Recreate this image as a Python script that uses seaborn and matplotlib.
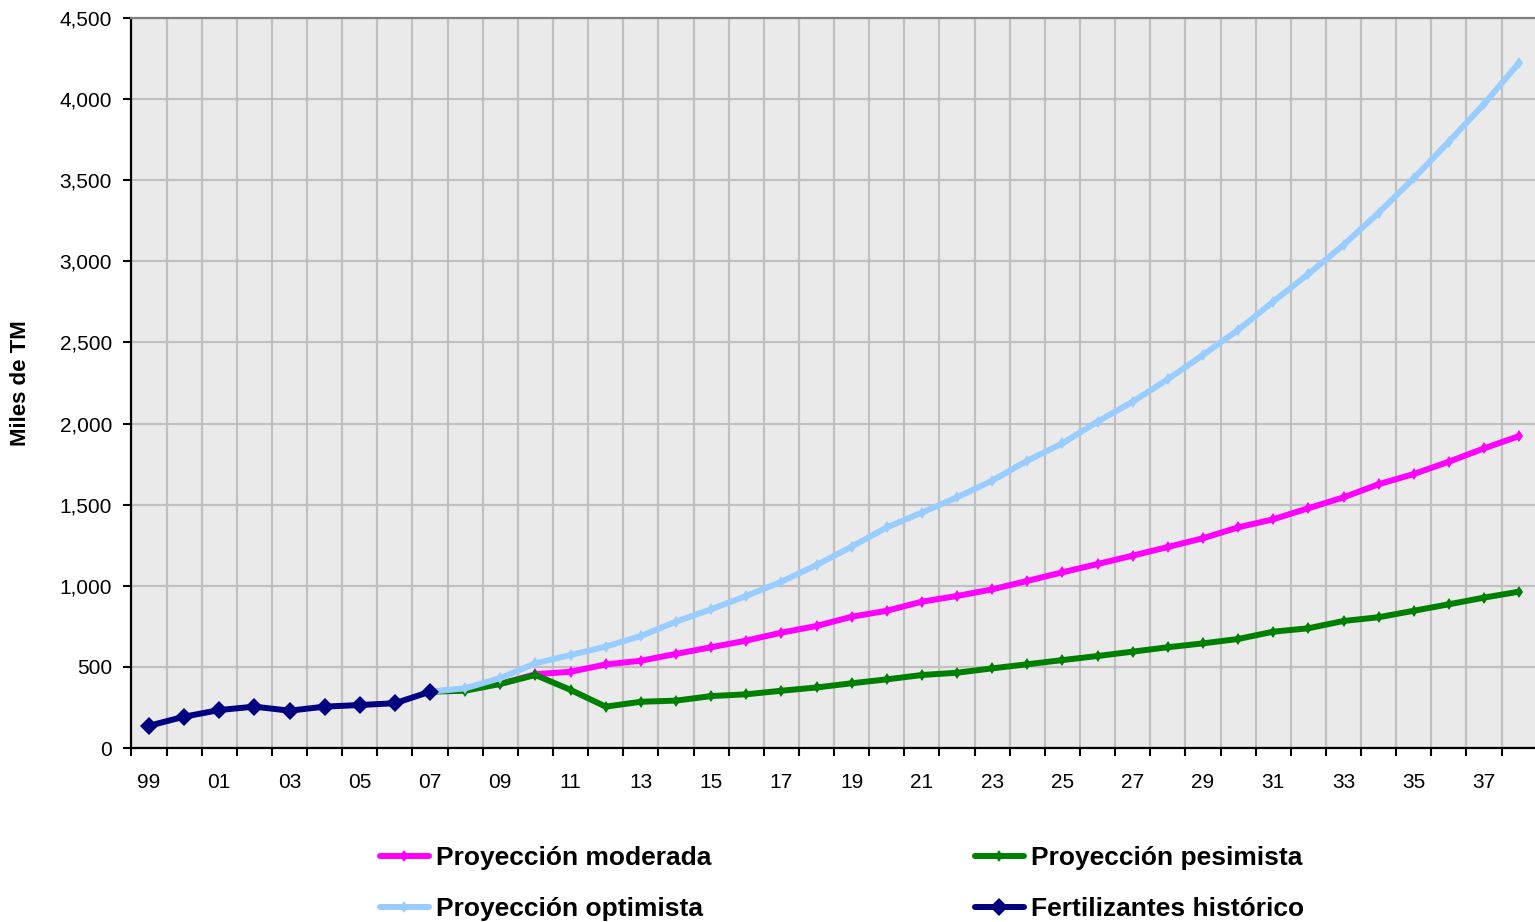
import matplotlib
matplotlib.use('Agg')
import matplotlib.pyplot as plt
from matplotlib.lines import Line2D
from matplotlib.ticker import FuncFormatter
import seaborn as sns
import pandas as pd

# Años (eje de categorías) y series (miles de TM)
years = list(range(1999, 2039))
hist_years = list(range(1999, 2008))
proj_years = list(range(2007, 2039))

historico = [137, 193, 234, 255, 230, 255, 265, 276, 347]

moderada = [347, 362, 395, 455, 470, 515, 538, 580, 621, 662,
            711, 752, 809, 846, 902, 937, 978, 1030, 1083, 1134,
            1186, 1239, 1293, 1360, 1410, 1478, 1545, 1626, 1689, 1765,
            1847, 1923]

optimista = [347, 368, 431, 522, 573, 625, 690, 779, 855, 937,
             1025, 1128, 1241, 1360, 1451, 1545, 1648, 1771, 1878, 2012,
             2135, 2273, 2423, 2577, 2752, 2922, 3101, 3300, 3512, 3738,
             3970, 4225]

pesimista = [347, 353, 395, 450, 358, 255, 285, 292, 320, 331,
             353, 373, 399, 423, 450, 464, 491, 516, 542, 567,
             594, 621, 645, 672, 717, 738, 783, 806, 846, 886,
             927, 964]

y_ticks = list(range(0, 5000, 500))

C_MOD = '#FF00FF'
C_OPT = '#99CCFF'
C_PES = '#008000'
C_HIS = '#000080'
LW = 4.3


def setup_style():
    sns.set_style('white')
    plt.rcParams['font.family'] = ['Liberation Sans', 'DejaVu Sans']
    for key in ['text.color', 'axes.labelcolor', 'xtick.color', 'ytick.color']:
        plt.rcParams[key] = 'black'


def create_chart():
    setup_style()
    fig = plt.figure(figsize=(15.35, 9.22), dpi=100)
    ax = fig.add_axes([131.4 / 1535, 1 - 748 / 922, (1535 - 131.4) / 1535, 730 / 922])
    ax.set_facecolor('#EAEAEA')

    proj = pd.DataFrame({'year': proj_years, 'moderada': moderada,
                         'optimista': optimista, 'pesimista': pesimista})
    hist = pd.DataFrame({'year': hist_years, 'historico': historico})

    sns.lineplot(data=proj, x='year', y='moderada', ax=ax, color=C_MOD, lw=LW,
                 marker='d', markersize=6, markeredgewidth=0, zorder=3)
    sns.lineplot(data=proj, x='year', y='pesimista', ax=ax, color=C_PES, lw=LW,
                 marker='d', markersize=6, markeredgewidth=0, zorder=4)
    sns.lineplot(data=proj, x='year', y='optimista', ax=ax, color=C_OPT, lw=LW,
                 marker='d', markersize=6, markeredgewidth=0, zorder=5)
    sns.lineplot(data=hist, x='year', y='historico', ax=ax, color=C_HIS, lw=LW,
                 marker='D', markersize=9, markeredgewidth=0, zorder=6)

    # Eje X de categorías: marcas entre años, etiquetas cada dos años
    bounds = [y - 0.5 for y in years] + [years[-1] + 0.5]
    ax.set_xticks(bounds)
    ax.set_xticklabels([])
    ax.set_xticks(years[::2], minor=True)
    ax.set_xticklabels([f'{y % 100:02d}' for y in years[::2]], minor=True)
    ax.set_xlim(years[0] - 0.5, years[-1] + 0.45)

    ax.set_yticks(y_ticks)
    ax.yaxis.set_major_formatter(FuncFormatter(lambda v, p: f'{int(v):,}'))
    ax.set_ylim(0, 4500)

    ax.tick_params(axis='x', which='major', direction='out', length=6, width=1.5,
                   color='black', bottom=True)
    ax.tick_params(axis='x', which='minor', length=0, pad=18, labelsize=15)
    ax.tick_params(axis='y', direction='out', length=6, width=1.5, color='black',
                   left=True, pad=8, labelsize=15)

    ax.grid(True, which='major', color='#C0C0C0', lw=1.6, zorder=0)
    ax.set_axisbelow(True)

    ax.spines['left'].set_color('black')
    ax.spines['left'].set_linewidth(1.6)
    ax.spines['bottom'].set_color('black')
    ax.spines['bottom'].set_linewidth(1.6)
    ax.spines['top'].set_color('#808080')
    ax.spines['top'].set_linewidth(1.6)
    ax.spines['right'].set_visible(False)

    ax.set_xlabel('')
    ax.set_ylabel('Miles de TM', fontsize=16, fontweight='bold')
    ax.yaxis.set_label_coords((31 - 131.4) / 1403.6, 0.5)

    # Leyenda: cuatro entradas en dos columnas bajo el gráfico
    entries = [
        ('Proyección moderada', C_MOD, 'd', 6, 380, 858),
        ('Proyección optimista', C_OPT, 'd', 6, 380, 909),
        ('Proyección pesimista', C_PES, 'd', 6, 975, 858),
        ('Fertilizantes histórico', C_HIS, 'D', 9, 975, 909),
    ]
    for label, color, mk, ms, px, py in entries:
        h = Line2D([], [], color=color, lw=LW, marker=mk, markersize=ms,
                   markeredgewidth=0)
        fig.legend([h], [label], loc='center left',
                   bbox_to_anchor=(px / 1535, 1 - py / 922), frameon=False,
                   borderpad=0, borderaxespad=0, handlelength=1.85,
                   handletextpad=0.28, prop={'size': 19, 'weight': 'bold'})

    fig.savefig('out.png', dpi=100)


if __name__ == '__main__':
    create_chart()
